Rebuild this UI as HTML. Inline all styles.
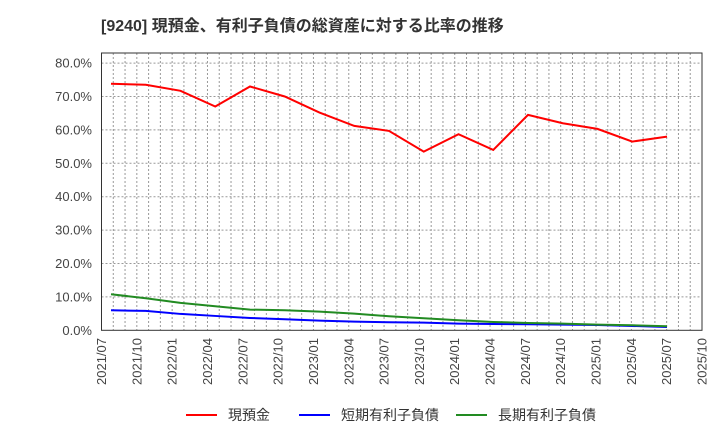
<!DOCTYPE html>
<html><head><meta charset="utf-8"><style>
body{margin:0;background:#fff;width:720px;height:440px;overflow:hidden}
svg{font-family:"Liberation Sans","Noto Sans CJK JP",sans-serif}
</style></head><body>
<svg id="s" width="720" height="440" xmlns="http://www.w3.org/2000/svg"></svg>
<script>
const s=document.getElementById('s');let h='';
h+='<text x="101" y="31" font-size="16" font-weight="bold" fill="#333">[9240]  現預金、有利子負債の総資産に対する比率の推移</text>';
const L=101.5,R=702,T=53,B=330.3,Y=v=>B-v*3.34;
h+='<rect x="'+L+'" y="'+T+'" width="'+(R-L)+'" height="'+(B-T)+'" fill="#fff"/>';
const mw=(R-L)/51;
for(let m=1;m<51;m++){const x=L+m*mw;h+='<line x1="'+x+'" y1="'+T+'" x2="'+x+'" y2="'+B+'" stroke="#999" stroke-width="1" stroke-dasharray="2,2"/>';}
for(let v=10;v<=80;v+=10){const y=Y(v);h+='<line x1="'+L+'" y1="'+y+'" x2="'+R+'" y2="'+y+'" stroke="#999" stroke-dasharray="2,2"/>';}
for(let v=0;v<=80;v+=10){h+='<text x="92" y="'+(Y(v)+4.5)+'" font-size="13" fill="#444" text-anchor="end">'+v.toFixed(1)+'%</text>';}
const labs=[];for(let i=0;i<=17;i++){const mo=7+i*3;const yr=2021+Math.floor((mo-1)/12);const mm=((mo-1)%12)+1;labs.push(yr+'/'+(mm<10?'0':'')+mm);}
labs.forEach((t,i)=>{const x=L+i*3*mw;h+='<text transform="translate('+(x+4.5)+',338) rotate(-90)" font-size="13" fill="#444" text-anchor="end">'+t+'</text>';});
h+='<rect x="'+L+'" y="'+T+'" width="'+(R-L)+'" height="'+(B-T)+'" fill="none" stroke="#333" stroke-width="1"/>';
const red=[73.8,73.5,71.7,67,73,70,65.2,61.2,59.7,53.5,58.7,54,64.5,62,60.3,56.5,58];
const grn=[10.8,9.6,8.2,7.2,6.2,6.0,5.6,5.0,4.2,3.6,3.0,2.5,2.2,2.0,1.7,1.5,1.2];
const blu=[6.0,5.8,4.9,4.3,3.7,3.3,2.9,2.6,2.4,2.3,2.0,1.9,1.8,1.7,1.6,1.3,1.0];
const line=(d,c)=>'<polyline fill="none" stroke="'+c+'" stroke-width="2" points="'+d.map((v,i)=>(111+i*34.75)+','+Y(v)).join(' ')+'"/>';
h+=line(blu,'#0000ff')+line(grn,'#228b22')+line(red,'#ff0000');
const leg=[['現預金','#ff0000',186],['短期有利子負債','#0000ff',299],['長期有利子負債','#228b22',456]];
leg.forEach(([t,c,x])=>{h+='<line x1="'+x+'" y1="415" x2="'+(x+31)+'" y2="415" stroke="'+c+'" stroke-width="2"/><text x="'+(x+42)+'" y="420" font-size="14" fill="#333">'+t+'</text>';});
s.innerHTML=h;
</script>
</body></html>
